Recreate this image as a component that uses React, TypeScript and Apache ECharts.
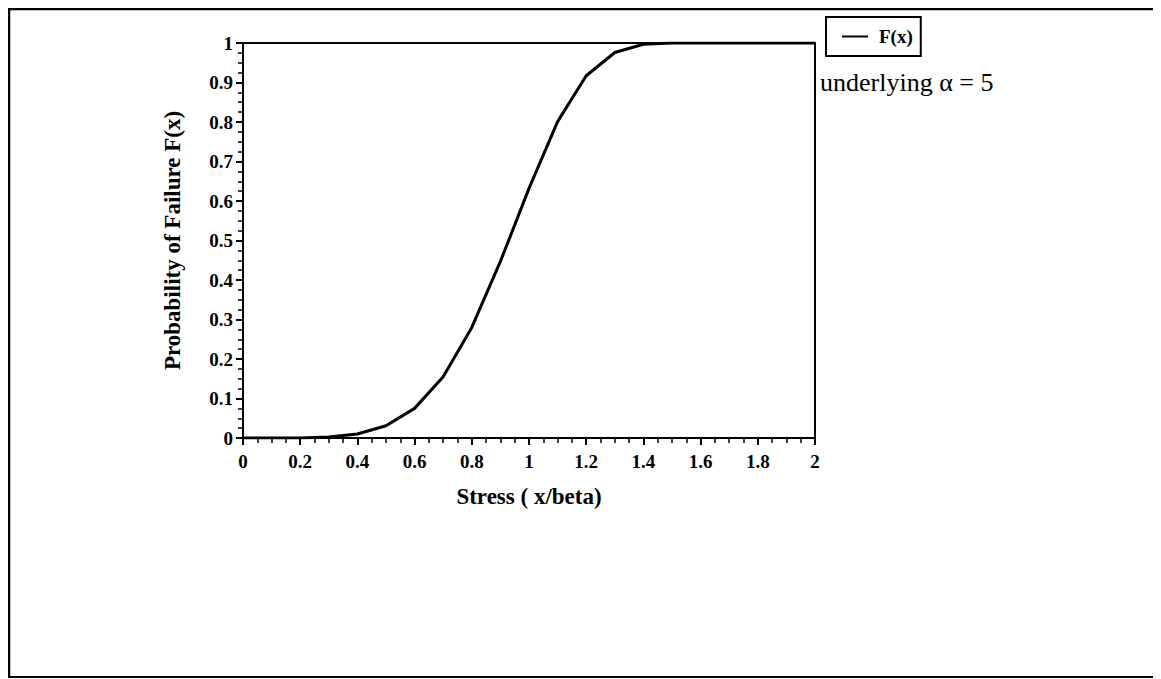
import React, { useEffect, useRef } from "react";
import * as echarts from "echarts";

const stress: number[] = [0, 0.1, 0.2, 0.3, 0.4, 0.5, 0.6, 0.7, 0.8, 0.9, 1.0, 1.1, 1.2, 1.3, 1.4, 1.5, 1.6, 1.7, 1.8, 1.9, 2.0];
const failure: number[] = [0, 0, 0.0003, 0.0024, 0.0102, 0.031, 0.075, 0.155, 0.28, 0.447, 0.632, 0.801, 0.917, 0.976, 0.997, 1, 1, 1, 1, 1, 1];
const seriesName = "F(x)";
const xTitle = "Stress ( x/beta)";
const yTitle = "Probability of Failure F(x)";
const noteText = "underlying \u03b1 = 5";

const FONT = "'Liberation Serif', 'DejaVu Serif', serif";

export default function App() {
  const ref = useRef<HTMLDivElement>(null);
  useEffect(() => {
    if (!ref.current) return;
    const prevOverflow = document.documentElement.style.overflow;
    document.documentElement.style.overflow = "hidden";
    document.body.style.overflow = "hidden";
    const chart = echarts.init(ref.current, undefined, { renderer: "svg" });
    const data = stress.map((x, i) => [x, failure[i]]);
    const frameStyle = { stroke: "#000", lineWidth: 2.5 };
    chart.setOption({
      animation: false,
      backgroundColor: "#fff",
      grid: {
        left: 235,
        top: 35,
        width: 572,
        height: 395,
        show: true,
        borderColor: "#000",
        borderWidth: 2,
        containLabel: false,
      },
      legend: {
        left: 818,
        top: 9,
        data: [seriesName],
        icon: "rect",
        itemWidth: 26,
        itemHeight: 2,
        padding: [10, 8, 10, 16],
        borderColor: "#000",
        borderWidth: 2,
        textStyle: { fontFamily: FONT, fontWeight: "bold", fontSize: 19, color: "#000", padding: [0, 0, 0, 6] },
      },
      xAxis: {
        type: "value",
        min: 0,
        max: 2,
        interval: 0.2,
        name: xTitle,
        nameLocation: "middle",
        nameGap: 47,
        nameTextStyle: { fontFamily: FONT, fontWeight: "bold", fontSize: 23, color: "#000" },
        axisLine: { show: true, lineStyle: { color: "#000", width: 2 } },
        axisTick: { show: true, length: 7, lineStyle: { color: "#000", width: 2 } },
        minorTick: { show: true, splitNumber: 4, length: 5, lineStyle: { color: "#000", width: 1.5 } },
        splitLine: { show: false },
        axisLabel: { fontFamily: FONT, fontWeight: "bold", fontSize: 19, color: "#000", margin: 14 },
      },
      yAxis: {
        type: "value",
        min: 0,
        max: 1,
        interval: 0.1,
        name: yTitle,
        nameLocation: "middle",
        nameGap: 59,
        nameTextStyle: { fontFamily: FONT, fontWeight: "bold", fontSize: 23, color: "#000" },
        axisLine: { show: true, lineStyle: { color: "#000", width: 2 } },
        axisTick: { show: true, length: 7, lineStyle: { color: "#000", width: 2 } },
        minorTick: { show: true, splitNumber: 4, length: 5, lineStyle: { color: "#000", width: 1.5 } },
        splitLine: { show: false },
        axisLabel: { fontFamily: FONT, fontWeight: "bold", fontSize: 19, color: "#000", margin: 10 },
      },
      series: [
        {
          name: seriesName,
          type: "line",
          data,
          symbol: "none",
          smooth: false,
          lineStyle: { color: "#000", width: 3 },
          itemStyle: { color: "#000" },
        },
      ],
      graphic: [
        { type: "line", shape: { x1: 0, y1: 1, x2: 1153, y2: 1 }, style: frameStyle, silent: true },
        { type: "line", shape: { x1: 1, y1: 0, x2: 1, y2: 670 }, style: frameStyle, silent: true },
        { type: "line", shape: { x1: 0, y1: 669, x2: 1153, y2: 669 }, style: { stroke: "#000", lineWidth: 2 }, silent: true },
        {
          type: "text",
          x: 812,
          y: 74,
          style: {
            text: noteText,
            fontFamily: FONT,
            fontSize: 26,
            fill: "#000",
            textVerticalAlign: "middle",
          },
        },
      ],
    });
    return () => {
      chart.dispose();
      document.documentElement.style.overflow = prevOverflow;
    };
  }, []);
  return <div ref={ref} style={{ width: 1153, height: 671 }} />;
}
